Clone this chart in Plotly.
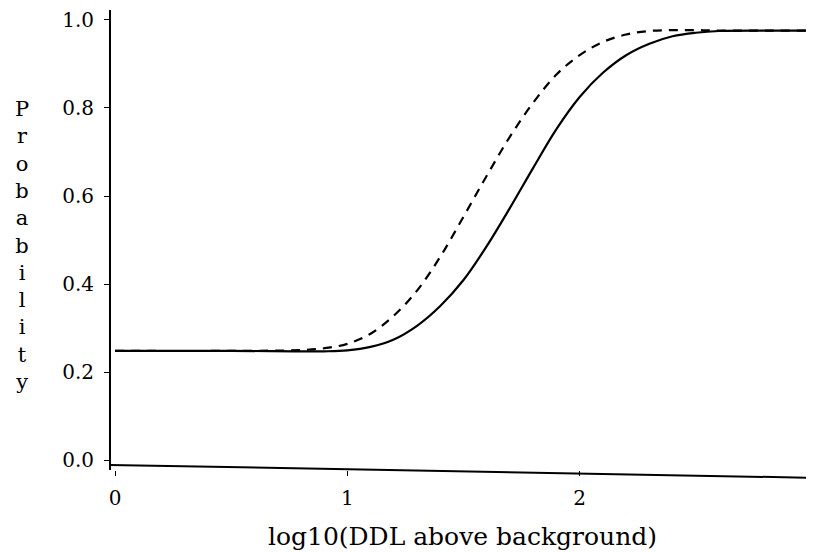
import plotly.graph_objects as go

# curves
x_solid = [0.0, 0.5, 0.9, 1.0, 1.1, 1.2, 1.3, 1.4, 1.5, 1.6, 1.7, 1.8, 1.9,
           2.0, 2.1, 2.2, 2.3, 2.4, 2.5, 2.6, 2.8, 3.0]
y_solid = [0.248, 0.248, 0.247, 0.249, 0.257, 0.274, 0.305, 0.350, 0.409, 0.486,
           0.573, 0.664, 0.752, 0.825, 0.880, 0.920, 0.946, 0.963, 0.971, 0.975,
           0.976, 0.976]

x_dash = [0.0, 0.5, 0.8, 0.9, 1.0, 1.1, 1.2, 1.3, 1.4, 1.5, 1.6, 1.7, 1.8, 1.9,
          2.0, 2.1, 2.2, 2.3, 2.4, 2.5, 2.6, 2.8, 3.0]
y_dash = [0.248, 0.248, 0.250, 0.254, 0.264, 0.287, 0.328, 0.385, 0.462, 0.553,
          0.646, 0.735, 0.812, 0.876, 0.920, 0.950, 0.967, 0.975, 0.977, 0.977,
          0.976, 0.976, 0.976]

x_ticks = [0, 1, 2, 3]
x_ticklabels = ["0", "1", "2", "3"]
y_ticks = [0.0, 0.2, 0.4, 0.6, 0.8, 1.0]
y_ticklabels = ["0.0", "0.2", "0.4", "0.6", "0.8", "1.0"]

font = "DejaVu Serif"

fig = go.Figure()
fig.add_trace(go.Scatter(x=x_dash, y=y_dash, mode="lines", line_shape="spline",
                         line=dict(color="black", width=2.2, dash="9px,7px")))
fig.add_trace(go.Scatter(x=x_solid, y=y_solid, mode="lines", line_shape="spline",
                         line=dict(color="black", width=2.2)))

# page body adds an 8px offset, so the figure is a bit smaller than the window
fig.update_layout(
    width=806, height=544,
    margin=dict(l=103, r=0, t=2, b=82),
    plot_bgcolor="white", paper_bgcolor="white",
    showlegend=False,
    font=dict(family=font, size=21, color="black"),
    xaxis=dict(range=[-0.0172, 3.0086], tickvals=x_ticks, ticktext=x_ticklabels,
               showgrid=False, zeroline=False, showline=False, automargin=False,
               ticks="outside", ticklen=5, tickcolor="black",
               tickfont=dict(size=20),
               ticklabelstandoff=5, ticklabeloverflow="allow",
               title=dict(text="log10(DDL above background)", standoff=18)),
    yaxis=dict(range=[-0.0227, 1.0227], tickvals=y_ticks, ticktext=y_ticklabels,
               showgrid=False, zeroline=False, showline=True, linecolor="black",
               linewidth=2, ticks="outside", ticklen=5, tickcolor="black",
               tickfont=dict(size=20),
               ticklabelstandoff=6, ticklabeloverflow="allow", automargin=False),
)

# sloping bottom axis line as in the scan
fig.add_shape(type="line", xref="paper", yref="paper",
              x0=-0.002, y0=0.011, x1=1.0, y1=-0.017,
              line=dict(color="black", width=2))

# stacked vertical axis title
fig.add_annotation(text="<br>".join("Probability"), xref="paper", yref="paper",
                   x=-0.127, y=0.489, showarrow=False, xanchor="center",
                   yanchor="middle", font=dict(family=font, size=21))

fig.write_html("out.html")
